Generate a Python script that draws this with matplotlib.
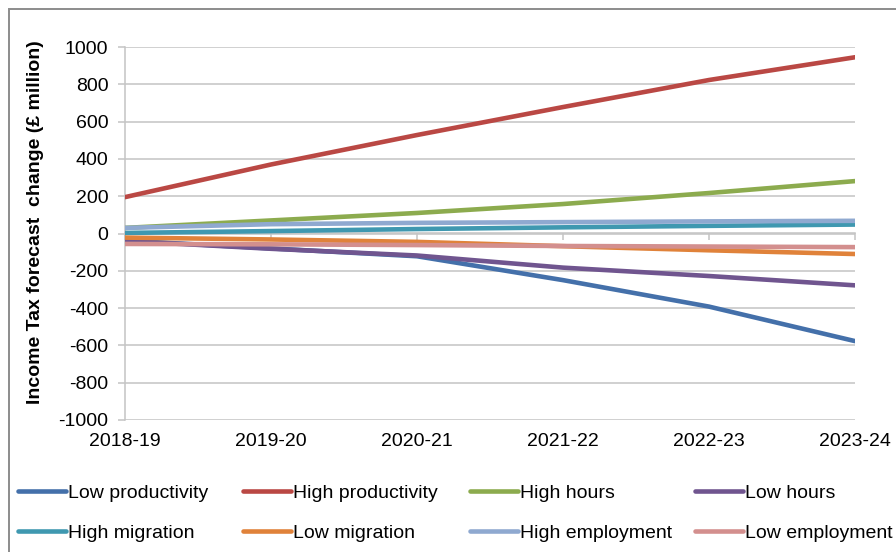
import numpy as np
import matplotlib
matplotlib.use("Agg")
import matplotlib.pyplot as plt
from matplotlib.patches import Rectangle

plt.rcParams['font.family'] = ['Liberation Sans', 'DejaVu Sans']
plt.rcParams['axes.unicode_minus'] = False

# data
years = ['2018-19', '2019-20', '2020-21', '2021-22', '2022-23', '2023-24']
low_productivity = [-38, -80, -122, -250, -392, -577]
high_productivity = [195, 370, 528, 678, 823, 945]
high_hours = [30, 70, 110, 158, 217, 281]
low_hours = [-40, -82, -118, -183, -228, -278]
high_migration = [3, 13, 24, 33, 41, 48]
low_migration = [-22, -32, -45, -68, -90, -110]
high_employment = [30, 50, 57, 61, 65, 68]
low_employment = [-56, -58, -62, -67, -70, -73]

series = [
    ('Low productivity', low_productivity, '#4470AA'),
    ('High productivity', high_productivity, '#BA4844'),
    ('High hours', high_hours, '#8CAB4E'),
    ('Low hours', low_hours, '#70558F'),
    ('High migration', high_migration, '#3F98B0'),
    ('Low migration', low_migration, '#E0823A'),
    ('High employment', high_employment, '#8FA9D0'),
    ('Low employment', low_employment, '#D38F8E'),
]

yticks = list(range(-1000, 1001, 200))
grid_col = '#C4C4C4'
fs = 14

fig = plt.figure(figsize=(8.96, 5.52), dpi=100)
ax = fig.add_axes([125/896, 1-420/552, 730/896, 373/552])

x = np.arange(len(years))
lines = []
for name, vals, col in series:
    ln, = ax.plot(x, vals, color=col, lw=3.3, label=name,
                  solid_capstyle='round', solid_joinstyle='round', zorder=3)
    lines.append(ln)

ax.set_xlim(0, len(years)-1)
ax.set_ylim(-1000, 1000)
ax.set_yticks(yticks)
ax.set_yticklabels([str(v) for v in yticks])
ax.set_xticks(x)
ax.set_xticklabels(years)
ax.grid(axis='y', color=grid_col, lw=1.1, zorder=0)
ax.set_axisbelow(True)

for s in ['top', 'right', 'bottom']:
    ax.spines[s].set_visible(False)
ax.spines['left'].set_color(grid_col)
ax.spines['left'].set_linewidth(1.1)
ax.tick_params(axis='y', length=5, color=grid_col, width=1.1, pad=7, labelsize=fs)
ax.tick_params(axis='x', length=0, pad=9, labelsize=fs)

# category axis crosses at zero, with tick marks pointing down
sec = ax.secondary_xaxis(0.5)
sec.set_xticks(x, labels=[''] * len(x))
sec.tick_params(axis='x', direction='in', length=5, color=grid_col, width=1.1,
                labeltop=False, labelbottom=False)
for s in sec.spines.values():
    s.set_color(grid_col)
    s.set_linewidth(1.1)

ax.set_ylabel('Income Tax forecast  change (£ million)', fontsize=14, fontweight='bold')
ax.yaxis.set_label_coords(-0.111, 0.53)

# legend: four columns of two entries
col_x = [18, 243, 470, 695]
for i, cx in enumerate(col_x):
    fig.legend([lines[i], lines[i+4]], [series[i][0], series[i+4][0]],
               loc='center left', bbox_to_anchor=(cx/896, 1-513/552),
               frameon=False, fontsize=fs, handlelength=2.45, handletextpad=0.1,
               labelspacing=1.16, borderpad=0, borderaxespad=0)

# chart border
fig.add_artist(Rectangle((9/896, -0.5), 2, 0.5 + 1 - 9/552, transform=fig.transFigure,
                         fill=False, edgecolor='#8C8C8C', lw=1.4))

fig.savefig('out.png', dpi=100)
